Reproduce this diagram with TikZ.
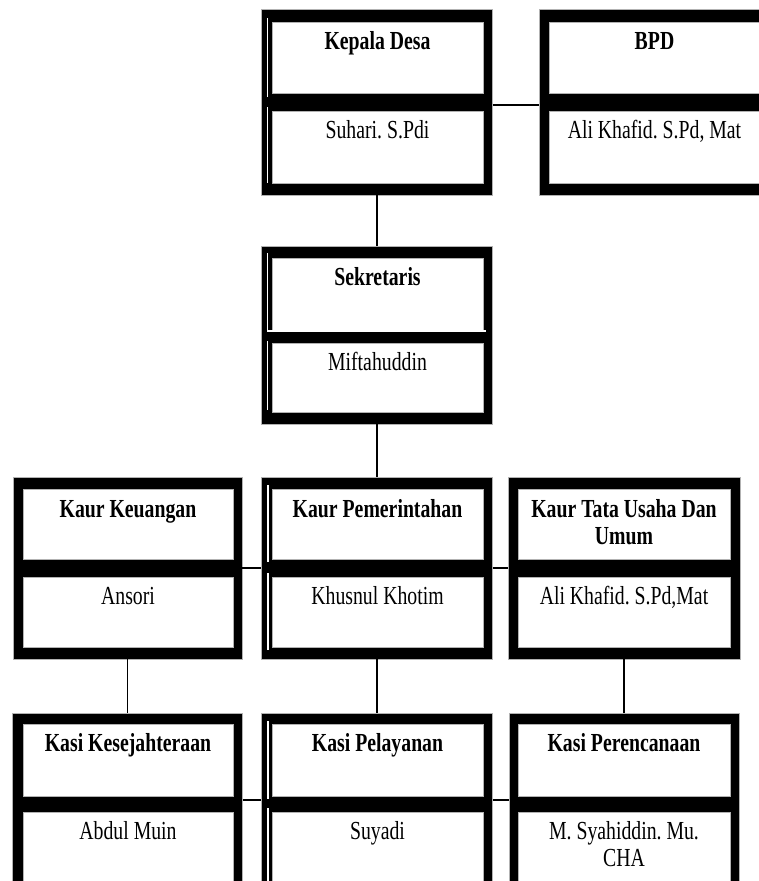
\documentclass[tikz,border=0pt]{standalone}
\usepackage{fontspec}
\setmainfont{Liberation Serif}[FakeStretch=0.76]
\frenchspacing
\begin{document}
\begin{tikzpicture}[x=1pt,y=-1pt,
  outerbox/.style={rectangle, inner sep=0pt, fill=black, draw=gray!60, line width=0.6pt},
  innerbox/.style={rectangle, inner sep=0pt, fill=white, draw=gray!60, line width=0.8pt},
  hd/.style={inner sep=0pt, anchor=base, align=center, font=\fontsize{26}{27}\selectfont\bfseries},
  nm/.style={inner sep=0pt, anchor=base, align=center, font=\fontsize{26}{27}\selectfont},
  conn/.style={draw=black, line width=1.1pt},
  seam/.style={draw=white, line width=1.1pt}
]
\useasboundingbox (0,0) rectangle (759,881);
\clip (0,0) rectangle (759,881);
\fill[white] (0,0) rectangle (759,881);

% ---- row 1
\node[outerbox, minimum width=231pt, minimum height=186pt] (kd) at (377,102) {};
\node[innerbox, minimum width=211pt, minimum height=71pt] (kdt) at (377.5,57.5) {};
\node[innerbox, minimum width=211pt, minimum height=72pt] (kdb) at (377.5,147) {};
\node[hd] (kdtx) at ([yshift=-28pt]kdt.north) {Kepala Desa};
\node[nm] (kdbx) at ([yshift=-28pt]kdb.north) {Suhari. S.Pdi};

\node[outerbox, minimum width=231pt, minimum height=186pt] (bpd) at (654.5,102) {};
\node[innerbox, minimum width=211pt, minimum height=71pt] (bpdt) at (654.5,57.5) {};
\node[innerbox, minimum width=211pt, minimum height=72pt] (bpdb) at (654.5,147) {};
\node[hd] (bpdtx) at ([yshift=-28pt]bpdt.north) {BPD};
\node[nm] (bpdbx) at ([yshift=-28pt]bpdb.north) {Ali Khafid. S.Pd, Mat};

% ---- row 2
\node[outerbox, minimum width=231pt, minimum height=178pt] (sek) at (377,335) {};
\node[innerbox, minimum width=211pt, minimum height=72pt] (sekt) at (377.5,294) {};
\node[innerbox, minimum width=211pt, minimum height=69pt] (sekb) at (377.5,377.5) {};
\node[hd] (sektx) at ([yshift=-28pt]sekt.north) {Sekretaris};
\node[nm] (sekbx) at ([yshift=-28pt]sekb.north) {Miftahuddin};

% ---- row 3
\node[outerbox, minimum width=229pt, minimum height=182pt] (kk) at (127.5,568) {};
\node[innerbox, minimum width=210pt, minimum height=70pt] (kkt) at (128,524) {};
\node[innerbox, minimum width=210pt, minimum height=70pt] (kkb) at (128,612) {};
\node[hd] (kktx) at ([yshift=-29pt]kkt.north) {Kaur Keuangan};
\node[nm] (kkbx) at ([yshift=-28pt]kkb.north) {Ansori};

\node[outerbox, minimum width=231pt, minimum height=182pt] (kp) at (377,568) {};
\node[innerbox, minimum width=211pt, minimum height=70pt] (kpt) at (377.5,524) {};
\node[innerbox, minimum width=211pt, minimum height=70pt] (kpb) at (377.5,612) {};
\node[hd] (kptx) at ([yshift=-29pt]kpt.north) {Kaur Pemerintahan};
\node[nm] (kpbx) at ([yshift=-28pt]kpb.north) {Khusnul Khotim};

\node[outerbox, minimum width=232pt, minimum height=182pt] (kt) at (624,568) {};
\node[innerbox, minimum width=212pt, minimum height=70pt] (ktt) at (624,524) {};
\node[innerbox, minimum width=212pt, minimum height=70pt] (ktb) at (624,612) {};
\node[hd] (kttx) at ([yshift=-56pt]ktt.north) {Kaur Tata Usaha Dan\\Umum};
\node[nm] (ktbx) at ([yshift=-28pt]ktb.north) {Ali Khafid. S.Pd,Mat};

% ---- row 4
\node[outerbox, minimum width=230pt, minimum height=180pt] (ks) at (127.5,803) {};
\node[innerbox, minimum width=210pt, minimum height=72pt] (kst) at (128,760) {};
\node[innerbox, minimum width=210pt, minimum height=70pt] (ksb) at (128,847) {};
\node[hd] (kstx) at ([yshift=-28pt]kst.north) {Kasi Kesejahteraan};
\node[nm] (ksbx) at ([yshift=-28pt]ksb.north) {Abdul Muin};

\node[outerbox, minimum width=231pt, minimum height=180pt] (kpl) at (377,803) {};
\node[innerbox, minimum width=211pt, minimum height=72pt] (kplt) at (377.5,760) {};
\node[innerbox, minimum width=211pt, minimum height=70pt] (kplb) at (377.5,847) {};
\node[hd] (kpltx) at ([yshift=-28pt]kplt.north) {Kasi Pelayanan};
\node[nm] (kplbx) at ([yshift=-28pt]kplb.north) {Suyadi};

\node[outerbox, minimum width=230pt, minimum height=180pt] (kpr) at (624,803) {};
\node[innerbox, minimum width=212pt, minimum height=72pt] (kprt) at (624,760) {};
\node[innerbox, minimum width=212pt, minimum height=70pt] (kprb) at (624,847) {};
\node[hd] (kprtx) at ([yshift=-28pt]kprt.north) {Kasi Perencanaan};
\node[nm] (kprbx) at ([yshift=-55pt]kprb.north) {M. Syahiddin. Mu.\\CHA};

% ---- thin seams of the compound borders
\draw[seam] (267.5,18) -- (267.5,97) (267.5,107) -- (267.5,183);
\draw[seam] (267.5,253) -- (267.5,331) -- (486,331) (267.5,341) -- (267.5,410);
\draw[seam] (268,485) -- (268,562) (268,573) -- (268,650);
\draw[seam] (268,721) -- (268,799) (268,808) -- (268,890);

% ---- connectors
\draw[conn] ([yshift=-3pt]kd.east) -- ([yshift=-3pt]bpd.west);
\draw[conn] (kd.south) -- (sek.north);
\draw[conn] (sek.south) -- (kp.north);
\draw[conn] (kk.east) -- (kp.west);
\draw[conn] (kp.east) -- (kt.west);
\draw[conn] (kk.south) -- (ks.north);
\draw[conn] (kp.south) -- (kpl.north);
\draw[conn] (kt.south) -- (kpr.north);
\draw[conn] ([yshift=3pt]ks.east) -- ([yshift=3pt]kpl.west);
\draw[conn] ([yshift=3pt]kpl.east) -- ([yshift=3pt]kpr.west);
\end{tikzpicture}
\end{document}
